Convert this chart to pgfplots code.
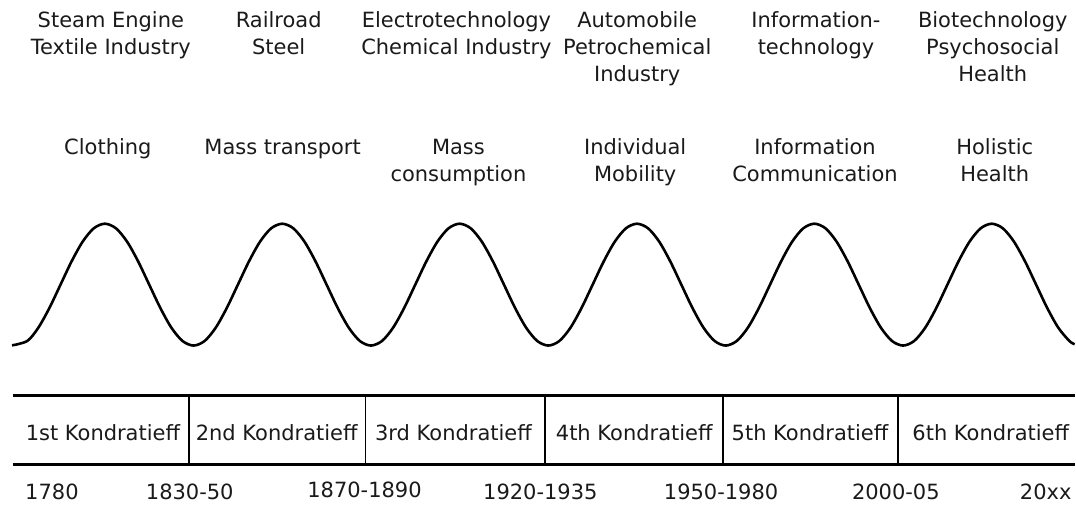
\documentclass[border=0pt]{standalone}
\usepackage{pgfplots}
\pgfplotsset{compat=1.18}
\usepackage{fontspec}
\setmainfont{DejaVu Sans}
\definecolor{txt}{HTML}{1A1A1A}
\tikzset{lbl/.style={font=\fontsize{21}{27}\selectfont, text=txt, inner sep=0pt, align=center, anchor=base}}
\begin{document}
\begin{tikzpicture}
\begin{axis}[
  hide axis, scale only axis,
  width=1076pt, height=506pt,
  xmin=0, xmax=1076, ymin=0, ymax=506,
  clip=false,
]
\path (rel axis cs:0,0) rectangle (rel axis cs:1,1);
% wave
\addplot[black, line width=2.6pt, smooth] coordinates {
(12,160.2) (27.3,164.6) (38.4,177.9) (49.5,197.7) (60.6,221) (71.7,244.3) (82.8,264.1) (93.9,277.4)
(105,282) (116.1,277.4) (127.2,264.1) (138.3,244.3) (149.4,221) (160.5,197.7) (171.6,177.9) (182.7,164.6)
(193.8,160) (204.9,164.6) (216,177.9) (227.1,197.7) (238.2,221) (249.3,244.3) (260.4,264.1) (271.5,277.4)
(282.6,282) (293.7,277.4) (304.8,264.1) (315.9,244.3) (327,221) (338.1,197.7) (349.2,177.9) (360.3,164.6)
(371.4,160) (382.5,164.6) (393.6,177.9) (404.7,197.7) (415.8,221) (426.9,244.3) (438,264.1) (449.1,277.4)
(460.2,282) (471.3,277.4) (482.4,264.1) (493.5,244.3) (504.6,221) (515.7,197.7) (526.8,177.9) (537.9,164.6)
(549,160) (560.1,164.6) (571.2,177.9) (582.3,197.7) (593.4,221) (604.5,244.3) (615.6,264.1) (626.7,277.4)
(637.8,282) (648.9,277.4) (660,264.1) (671.1,244.3) (682.2,221) (693.3,197.7) (704.4,177.9) (715.5,164.6)
(726.6,160) (737.7,164.6) (748.8,177.9) (759.9,197.7) (771,221) (782.1,244.3) (793.2,264.1) (804.3,277.4)
(815.4,282) (826.5,277.4) (837.6,264.1) (848.7,244.3) (859.8,221) (870.9,197.7) (882,177.9) (893.1,164.6)
(904.2,160) (915.3,164.6) (926.4,177.9) (937.5,197.7) (948.6,221) (959.7,244.3) (970.8,264.1) (981.9,277.4)
(993,282) (1004.1,277.4) (1015.2,264.1) (1026.3,244.3) (1037.4,221) (1048.5,197.7) (1059.6,177.9) (1070.7,164.6)
(1076,161.3)
};
% table lines
\addplot[black, line width=2.7pt] coordinates {(13,110.3) (1076,110.3)};
\addplot[black, line width=2.7pt] coordinates {(13,41) (1076,41)};
\addplot[black, line width=1.8pt] coordinates {(189,41) (189,110.3)};
\addplot[black, line width=1.8pt] coordinates {(366,41) (366,110.3)};
\addplot[black, line width=1.8pt] coordinates {(546,41) (546,110.3)};
\addplot[black, line width=1.8pt] coordinates {(724,41) (724,110.3)};
\addplot[black, line width=1.8pt] coordinates {(899,41) (899,110.3)};
% top labels (anchor = baseline of last line)
\node[lbl] at (axis cs:111,451.7) {Steam Engine\\Textile Industry};
\node[lbl] at (axis cs:279,451.7) {Railroad\\Steel};
\node[lbl] at (axis cs:457,451.7) {Electrotechnology\\Chemical Industry};
\node[lbl] at (axis cs:638,424.7) {Automobile\\Petrochemical\\Industry};
\node[lbl] at (axis cs:817,451.7) {Information-\\technology};
\node[lbl] at (axis cs:994,424.7) {Biotechnology\\Psychosocial\\Health};
% second row
\node[lbl] at (axis cs:108,351) {Clothing};
\node[lbl] at (axis cs:283,351) {Mass transport};
\node[lbl] at (axis cs:459,324.3) {Mass\\consumption};
\node[lbl] at (axis cs:636,324.3) {Individual\\Mobility};
\node[lbl] at (axis cs:816,324.3) {Information\\Communication};
\node[lbl] at (axis cs:996,324.3) {Holistic\\Health};
% table labels
\node[lbl] at (axis cs:103,65.3) {1st Kondratieff};
\node[lbl] at (axis cs:277,65.3) {2nd Kondratieff};
\node[lbl] at (axis cs:454,65.3) {3rd Kondratieff};
\node[lbl] at (axis cs:635,65.3) {4th Kondratieff};
\node[lbl] at (axis cs:811,65.3) {5th Kondratieff};
\node[lbl] at (axis cs:992,65.3) {6th Kondratieff};
% years
\node[lbl] at (axis cs:52,6) {1780};
\node[lbl] at (axis cs:190,6) {1830-50};
\node[lbl] at (axis cs:365,8) {1870-1890};
\node[lbl] at (axis cs:541,6) {1920-1935};
\node[lbl] at (axis cs:722,6) {1950-1980};
\node[lbl] at (axis cs:897,6) {2000-05};
\node[lbl] at (axis cs:1047,6) {20xx};
\end{axis}
\end{tikzpicture}
\end{document}
